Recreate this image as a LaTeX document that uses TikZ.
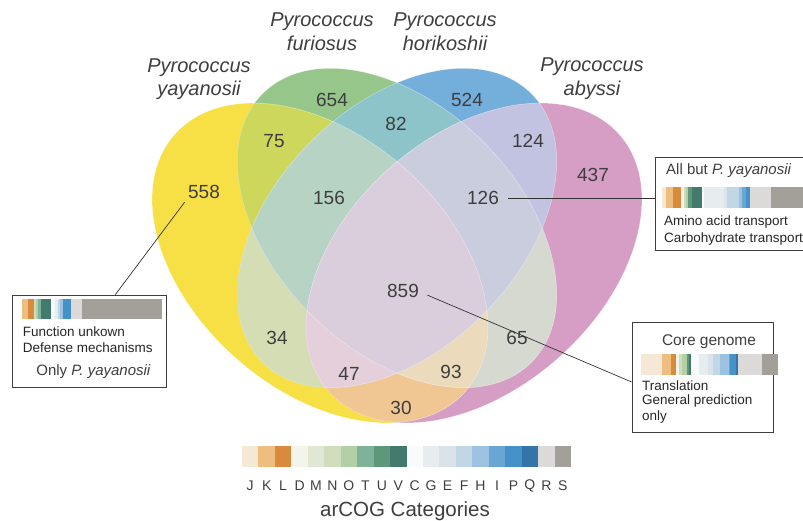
\documentclass[tikz,border=0pt]{standalone}
\usepackage{fontspec}
\setmainfont{Liberation Sans}
\usetikzlibrary{calc}

% set colours
\definecolor{txt}{HTML}{3E3E3E}
\definecolor{cY}{HTML}{F6E046}
\definecolor{cG}{HTML}{97C68A}
\definecolor{cB}{HTML}{74AFDC}
\definecolor{cP}{HTML}{D69EC4}
\definecolor{cYG}{HTML}{CDD75B}
\definecolor{cYB}{HTML}{D4DDB3}
\definecolor{cYP}{HTML}{F0C792}
\definecolor{cGB}{HTML}{8DC4C9}
\definecolor{cGP}{HTML}{D6D9D0}
\definecolor{cBP}{HTML}{C1C3E1}
\definecolor{cYGB}{HTML}{B6D3C3}
\definecolor{cYGP}{HTML}{EBDABB}
\definecolor{cYBP}{HTML}{E5CFDB}
\definecolor{cGBP}{HTML}{C9CDDE}
\definecolor{cAll}{HTML}{DACEDD}
% arCOG category colours
\definecolor{catJ}{HTML}{F5E9D6}
\definecolor{catK}{HTML}{EDBE80}
\definecolor{catL}{HTML}{D98A3D}
\definecolor{catD}{HTML}{F3F4EA}
\definecolor{catM}{HTML}{E0E8D5}
\definecolor{catN}{HTML}{CFDDBD}
\definecolor{catO}{HTML}{B3CFA5}
\definecolor{catT}{HTML}{7EB39A}
\definecolor{catU}{HTML}{5E9779}
\definecolor{catV}{HTML}{437A6B}
\definecolor{catC}{HTML}{F8FAFC}
\definecolor{catG}{HTML}{E7ECEF}
\definecolor{catE}{HTML}{DAE3EA}
\definecolor{catF}{HTML}{C2D7E5}
\definecolor{catH}{HTML}{9DC1E0}
\definecolor{catI}{HTML}{6AA6D4}
\definecolor{catP}{HTML}{4592C8}
\definecolor{catQ}{HTML}{3574A9}
\definecolor{catR}{HTML}{DCDAD8}
\definecolor{catS}{HTML}{A39F99}

\tikzset{
	ovalY/.style = {shift={(320,258)}, rotate=-41.5, x radius=194, y radius=127},
	ovalG/.style = {shift={(397,293)}, rotate=-45, x radius=190, y radius=122},
	ovalB/.style = {shift={(397,293)}, rotate=45, x radius=190, y radius=122},
	ovalP/.style = {shift={(474,258)}, rotate=41.5, x radius=194, y radius=127},
	num/.style = {font=\fontsize{19}{22}\selectfont, text=txt},
	species/.style = {font=\fontsize{20}{23.5}\selectfont\itshape, text=txt, align=center},
	legbox/.style = {draw=txt, line width=0.8pt, fill=white},
	boxhead/.style = {font=\fontsize{15}{18}\selectfont, text=txt, inner sep=0pt},
	boxtext/.style = {font=\fontsize{13.5}{16}\selectfont, text=black!85, inner sep=0pt, anchor=west},
	catlbl/.style = {font=\fontsize{14}{16}\selectfont, text=txt, inner sep=0pt},
	leader/.style = {draw=black!80, line width=0.7pt},
}
\def\oval{(0,0) ellipse []}

\begin{document}
\begin{tikzpicture}[x=1pt, y=1pt]
	\useasboundingbox (0,0) rectangle (803,521);
	
	% single sets
	\fill[ovalY, cY] \oval;
	\fill[ovalG, cG] \oval;
	\fill[ovalB, cB] \oval;
	\fill[ovalP, cP] \oval;
	
	% pairs
	\begin{scope} \clip[ovalY] \oval; \fill[ovalG, cYG] \oval; \end{scope}
	\begin{scope} \clip[ovalY] \oval; \fill[ovalB, cYB] \oval; \end{scope}
	\begin{scope} \clip[ovalY] \oval; \fill[ovalP, cYP] \oval; \end{scope}
	\begin{scope} \clip[ovalG] \oval; \fill[ovalB, cGB] \oval; \end{scope}
	\begin{scope} \clip[ovalG] \oval; \fill[ovalP, cGP] \oval; \end{scope}
	\begin{scope} \clip[ovalB] \oval; \fill[ovalP, cBP] \oval; \end{scope}
	
	% triples
	\begin{scope} \clip[ovalY] \oval; \clip[ovalG] \oval; \fill[ovalB, cYGB] \oval; \end{scope}
	\begin{scope} \clip[ovalY] \oval; \clip[ovalG] \oval; \fill[ovalP, cYGP] \oval; \end{scope}
	\begin{scope} \clip[ovalY] \oval; \clip[ovalB] \oval; \fill[ovalP, cYBP] \oval; \end{scope}
	\begin{scope} \clip[ovalG] \oval; \clip[ovalB] \oval; \fill[ovalP, cGBP] \oval; \end{scope}
	
	% all four
	\begin{scope} \clip[ovalY] \oval; \clip[ovalG] \oval; \clip[ovalB] \oval; \fill[ovalP, cAll] \oval; \end{scope}
	
	% faint borders
	\foreach \s in {ovalY, ovalG, ovalB, ovalP}
		\draw[\s, white, opacity=0.45, line width=0.5pt] \oval;
	
	% counts
	\node[num] (n558) at (204,329) {558};
	\node[num] (n654) at (332,421) {654};
	\node[num] (n524) at (467,421) {524};
	\node[num] (n437) at (593,346) {437};
	\node[num] (n75) at (274,380) {75};
	\node[num] (n82) at (396,397) {82};
	\node[num] (n124) at (528,380) {124};
	\node[num] (n156) at (329,323) {156};
	\node[num] (n126) at (483,323) {126};
	\node[num] (n859) at (403,230) {859};
	\node[num] (n34) at (277,183) {34};
	\node[num] (n65) at (517,183) {65};
	\node[num] (n47) at (349,147) {47};
	\node[num] (n93) at (451,149) {93};
	\node[num] (n30) at (401,113) {30};
	
	% species names
	\node[species] (spY) at (199,442) {Pyrococcus\\yayanosii};
	\node[species] (spG) at (322,489.5) {Pyrococcus\\furiosus};
	\node[species] (spB) at (445,489.5) {Pyrococcus\\horikoshii};
	\node[species] (spP) at (592,442.5) {Pyrococcus\\abyssi};
	
	% legend boxes
	\node[legbox, minimum width=154pt, minimum height=92pt] (boxY) at (89,180) {};
	\node[legbox, minimum width=160pt, minimum height=93pt] (boxP) at (735,317.5) {};
	\node[legbox, minimum width=141pt, minimum height=110pt] (boxC) at (702.5,144) {};
	
	% leaders
	\draw[leader] (n558.south west) -- ($(boxY.north west)!0.67!(boxY.north east)$);
	\draw[leader] ([xshift=6pt]n126.east) -- (n126.east -| boxP.west);
	\draw[leader] ([xshift=5pt]n859.-12) -- ($(boxC.south west)!0.455!(boxC.north west)$);
	
	% only P. yayanosii
	\foreach \a/\b/\c in {21.7/22.3/catJ, 22.3/27.7/catK, 27.7/34/catL, 34/35.7/catN, 35.7/38.3/catO,
		38.3/40.7/catT, 40.7/51/catV, 51/55/catC, 55/57.7/catG, 57.7/60/catF, 60/63.3/catH,
		63.3/70.7/catP, 70.7/81.7/catR, 81.7/162/catS}
		\fill[\c] (\a,202) rectangle (\b,222);
	\node[boxtext] (fnY) at (22.7,189) {Function unkown};
	\node[boxtext] (dfY) at (22.7,173) {Defense mechanisms};
	\node[boxhead] (hdY) at (93.5,149) {Only \textit{P. yayanosii}};
	
	% all but P. yayanosii
	\foreach \a/\b/\c in {662.3/665.7/catJ, 665.7/673/catK, 673/680.7/catL, 680.7/683.7/catD,
		683.7/685.7/catN, 685.7/688.3/catO, 688.3/692.3/catU, 692.3/701.7/catV, 701.7/704/catC,
		704/724/catG, 724/726.7/catE, 726.7/739/catF, 739/741.7/catH, 741.7/745.7/catI,
		745.7/750/catP, 750/771/catR, 771/810/catS}
		\fill[\c] (\a,313) rectangle (\b,334);
	\node[boxhead, anchor=west] (hdP) at (666,350) {All but \textit{P. yayanosii}};
	\node[boxtext] (amP) at (664,299) {Amino acid transport};
	\node[boxtext] (chP) at (664,282) {Carbohydrate transport};
	
	% core genome
	\foreach \a/\b/\c in {641/662/catJ, 662/671/catK, 671/676/catL, 676/678.7/catD, 678.7/682/catN,
		682/687/catO, 687/688.7/catU, 688.7/691/catV, 691/699.3/catC, 699.3/707.7/catG,
		707.7/713.3/catE, 713.3/720/catF, 720/728.7/catH, 728.7/730/catI, 730/736/catP,
		736/738/catQ, 738/762/catR, 762/778/catS}
		\fill[\c] (\a,146) rectangle (\b,167);
	\node[boxhead, font=\fontsize{15.5}{18}\selectfont] (hdC) at (709,179) {Core genome};
	\node[boxtext] (trC) at (642,135) {Translation};
	\node[boxtext] (gpC) at (642,120) {General prediction};
	\node[boxtext] (onC) at (642,104) {only};
	
	% arCOG categories
	\foreach \c [count=\i from 0] in {J,K,L,D,M,N,O,T,U,V,C,G,E,F,H,I,P,Q,R,S} {
		\fill[cat\c] ({242+16.45*\i},54) rectangle ++(16.45,21);
		\node[catlbl] (lbl\c) at ({242+16.45*(\i+0.5)},35) {\c};
	}
	\node[num, font=\fontsize{20.5}{24}\selectfont] (catTitle) at (405,10) {arCOG Categories};
\end{tikzpicture}
\end{document}
